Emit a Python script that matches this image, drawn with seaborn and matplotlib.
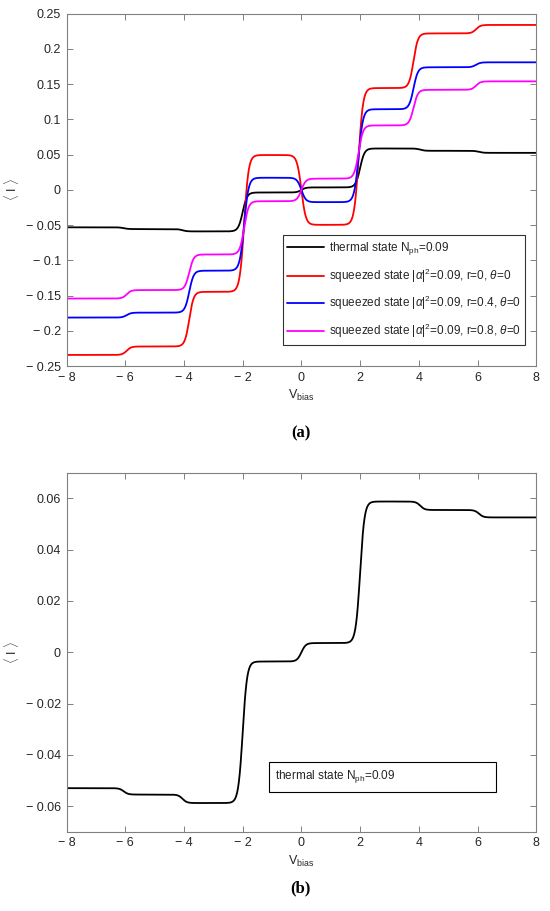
import numpy as np
import pandas as pd
import matplotlib
matplotlib.use("Agg")
import matplotlib.pyplot as plt
import seaborn as sns
from matplotlib.ticker import FuncFormatter, MultipleLocator
from matplotlib.patches import Rectangle

# plateau levels of <I> on [-8,-6], [-6,-4], ..., [6,8]
thermal_levels = [-0.0530, -0.0555, -0.0588, -0.0036, 0.0036, 0.0588, 0.0555, 0.0526]
sq_r0_levels = [-0.2340, -0.2220, -0.1445, 0.0495, -0.0495, 0.1445, 0.2220, 0.2340]
sq_r04_levels = [-0.1810, -0.1740, -0.1145, 0.0173, -0.0173, 0.1145, 0.1740, 0.1810]
sq_r08_levels = [-0.1540, -0.1420, -0.0915, -0.0160, 0.0160, 0.0915, 0.1420, 0.1540]

# bias voltages where the current steps from one plateau to the next
thermal_steps = [-6.05, -4.05, -2.0, 0.0, 2.0, 4.05, 6.05]
squeezed_steps = [-5.95, -3.82, -1.95, 0.0, 1.95, 3.82, 5.95]

labels = [
    r"thermal state N$_{\rm ph}$=0.09",
    r"squeezed state $|\alpha|^2$=0.09, r=0, $\theta$=0",
    r"squeezed state $|\alpha|^2$=0.09, r=0.4, $\theta$=0",
    r"squeezed state $|\alpha|^2$=0.09, r=0.8, $\theta$=0",
]
colors = ["#000000", "#ff0000", "#0000ff", "#ff00ff"]

v_bias = np.linspace(-8, 8, 1601)


def iv_curve(levels, steps, kt=0.075):
    # smooth (thermally broadened) staircase through the read-off plateaus
    cur = np.full_like(v_bias, levels[0])
    for k, c in enumerate(steps):
        cur += (levels[k + 1] - levels[k]) / (1.0 + np.exp(-(v_bias - c) / kt))
    return cur


series = [
    (labels[0], thermal_levels, thermal_steps),
    (labels[1], sq_r0_levels, squeezed_steps),
    (labels[2], sq_r04_levels, squeezed_steps),
    (labels[3], sq_r08_levels, squeezed_steps),
]
df = pd.concat(
    [pd.DataFrame({"V": v_bias, "I": iv_curve(lv, st), "state": name}) for name, lv, st in series],
    ignore_index=True,
)

sns.set_theme(style="white")
plt.rcParams["font.family"] = ["Liberation Sans", "DejaVu Sans"]
plt.rcParams["mathtext.fontset"] = "custom"
plt.rcParams["mathtext.rm"] = "Liberation Sans"
plt.rcParams["mathtext.it"] = "Liberation Sans:italic"
plt.rcParams["mathtext.bf"] = "Liberation Sans:bold"

fig = plt.figure(figsize=(5.5, 9.11), dpi=100)
ax1 = fig.add_axes([0.121, 0.598, 0.854, 0.387])
ax2 = fig.add_axes([0.121, 0.087, 0.854, 0.394])

spine_col = "#808080"
text_col = "#262626"


def minus_fmt(x, pos):
    s = "%g" % round(x, 4)
    return s.replace("-", "\u2212 ")


def style_axes(ax, ymin, ymax, ystep):
    ax.set_xlim(-8, 8)
    ax.set_ylim(ymin, ymax)
    ax.xaxis.set_major_locator(MultipleLocator(2))
    ax.yaxis.set_major_locator(MultipleLocator(ystep))
    ax.xaxis.set_major_formatter(FuncFormatter(minus_fmt))
    ax.yaxis.set_major_formatter(FuncFormatter(minus_fmt))
    ax.tick_params(direction="in", length=4, width=0.7, color=spine_col,
                   labelsize=9, labelcolor=text_col, top=True, right=True,
                   bottom=True, left=True, pad=4)
    for sp in ax.spines.values():
        sp.set_color(spine_col)
        sp.set_linewidth(0.8)
    ax.set_xlabel(r"V$_{\rm bias}$", fontsize=9, color=text_col, labelpad=3)
    ax.set_ylabel(r"$\langle$ I $\rangle$", fontsize=9, color=text_col, labelpad=2)
    ax.yaxis.set_label_coords(-0.098, 0.5)


# (a) all four states
sns.lineplot(data=df, x="V", y="I", hue="state", hue_order=labels, palette=colors,
             estimator=None, sort=False, linewidth=1.3, legend=False, ax=ax1)
style_axes(ax1, -0.25, 0.25, 0.05)
leg = ax1.legend(ax1.lines, labels, loc="upper left", bbox_to_anchor=(0.46, 0.371),
                 fontsize=8.5, frameon=True, fancybox=False, handlelength=3.1,
                 handletextpad=0.4, labelspacing=0.8, borderpad=0.4,
                 borderaxespad=0.0)
leg.get_frame().set_edgecolor("#000000")
leg.get_frame().set_linewidth(0.8)
for t in leg.get_texts():
    t.set_color(text_col)

# (b) thermal state only
sns.lineplot(data=df[df["state"] == labels[0]], x="V", y="I", color="#000000",
             estimator=None, sort=False, linewidth=1.3, legend=False, ax=ax2)
style_axes(ax2, -0.07, 0.07, 0.02)
ax2.add_patch(Rectangle((0.43, 0.111), 0.485, 0.084, transform=ax2.transAxes,
                        facecolor="white", edgecolor="#000000", linewidth=0.8, zorder=5))
ax2.text(0.443, 0.153, labels[0], transform=ax2.transAxes, fontsize=8.5,
         color=text_col, va="center", ha="left", zorder=6)

fig.text(0.547, 1 - 433 / 911, "(a)", ha="center", va="center", fontsize=12,
         family="Liberation Serif", weight="bold", color="#000000")
fig.text(0.547, 1 - 888 / 911, "(b)", ha="center", va="center", fontsize=12,
         family="Liberation Serif", weight="bold", color="#000000")

fig.savefig("out.png", dpi=100)
